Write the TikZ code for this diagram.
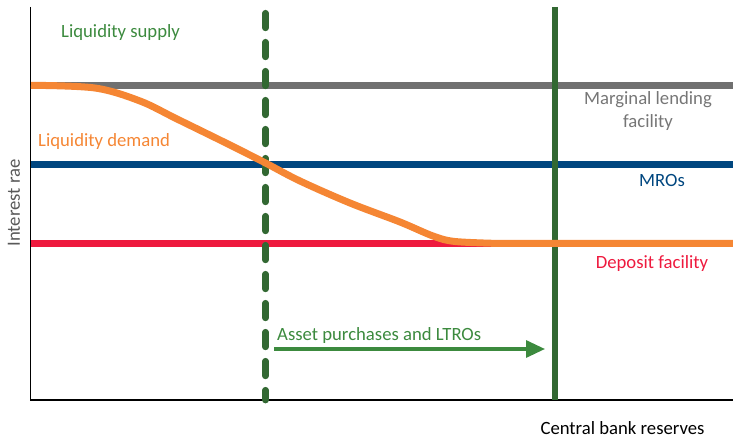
\documentclass[tikz,border=0pt]{standalone}
\usepackage{fontspec}
\setmainfont{Carlito}
\usetikzlibrary{arrows.meta}

\definecolor{lendgray}{RGB}{112,112,112}
\definecolor{labelgray}{RGB}{118,118,118}
\definecolor{mroblue}{RGB}{0,70,127}
\definecolor{depred}{RGB}{238,26,62}
\definecolor{demorange}{RGB}{245,134,52}
\definecolor{supgreen}{RGB}{50,104,50}
\definecolor{arrgreen}{RGB}{60,138,62}

\begin{document}
\begin{tikzpicture}[x=1pt, y=-1pt]
    \tikzset{
        every node/.style={font=\fontsize{18.7}{23}\selectfont, inner sep=0pt},
        rateline/.style={line width=6.5pt},
        supplyline/.style={line width=6.8pt, color=supgreen}
    }
    \useasboundingbox (0,0) rectangle (733,446);

    % 1. 定义关键坐标
    % 坐标轴
    \coordinate (Origin) at (30.5, 400);
    \coordinate (YTop) at (30.5, 7);
    \coordinate (XEnd) at (733, 400);

    % 利率水平线的两端
    \coordinate (MLFLeft) at (31, 85.3);   \coordinate (MLFRight) at (733, 85.3);
    \coordinate (MROLeft) at (31, 164.3);  \coordinate (MRORight) at (733, 164.3);
    \coordinate (DepLeft) at (31, 243.5);  \coordinate (DepRight) at (733, 243.5);

    % 流动性供给 (旧: 虚线, 新: 实线)
    \coordinate (OldTop) at (265.5, 13.3);
    \coordinate (OldBottom) at (265.5, 400);
    \coordinate (NewTop) at (555, 7);
    \coordinate (NewBottom) at (555, 400);

    % 箭头两端
    \coordinate (ArrStart) at (274, 349);
    \coordinate (ArrEnd) at (545, 349);

    % 2. 绘制坐标轴
    \draw[line width=1.1pt] (YTop) -- (Origin) -- (XEnd);

    % 3. 绘制利率走廊
    \draw[rateline, lendgray] (MLFLeft) -- (MLFRight);
    \draw[rateline, mroblue] (MROLeft) -- (MRORight);
    \draw[rateline, depred] (DepLeft) -- (DepRight);

    % 4. 绘制流动性供给
    \draw[supplyline, line cap=round, dash pattern=on 14.5pt off 14.5pt] (OldTop) -- (OldBottom);
    \draw[supplyline] (NewTop) -- (NewBottom);

    % 5. 绘制流动性需求曲线
    \draw[demorange, line width=7pt] plot[smooth, tension=0.55] coordinates {
        (31,85.3) (95,88) (140,101) (177,119) (230,145) (265.5,163)
        (300,181) (350,203) (400,222) (433,236) (455,241.5) (500,243.5)}
        -- (DepRight);

    % 6. 绘制箭头 (资产购买)
    \draw[-{Triangle[length=19pt, width=17pt]}, arrgreen, line width=3.2pt] (ArrStart) -- (ArrEnd);

    % 7. 标注
    \node[text=arrgreen, anchor=west] (supply) at (61, 33) {Liquidity supply};
    \node[text=demorange, anchor=west] (demand) at (38, 142) {Liquidity demand};
    \node[text=labelgray, align=center] (mlf) at (648, 111.5) {Marginal lending\\facility};
    \node[text=mroblue] (mro) at (662, 180.5) {MROs};
    \node[text=depred] (dep) at (652, 263.5) {Deposit facility};
    \node[text=arrgreen, anchor=west] (purch) at (277, 335.5) {Asset purchases and LTROs};
    \node (reserves) at (622.5, 428) {Central bank reserves};
    \node[text=black!65, rotate=90] (rate) at (14, 203) {Interest rae};

\end{tikzpicture}
\end{document}
